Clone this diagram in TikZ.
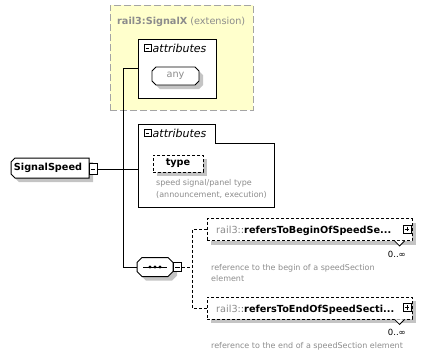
\documentclass[tikz,border=0pt]{standalone}
\usepackage{fontspec}
\setmainfont{DejaVu Sans}
\usetikzlibrary{calc}

\definecolor{extfill}{RGB}{255,255,204}
\definecolor{extline}{RGB}{165,165,165}
\definecolor{greytext}{RGB}{140,140,140}
\definecolor{shadowgrey}{RGB}{196,196,196}

\begin{document}
\begin{tikzpicture}[x=1pt,y=-1pt,
  wire/.style={draw=black, line width=1pt},
  optwire/.style={draw=black, line width=0.9pt, dash pattern=on 3pt off 2pt},
  castshadow/.style={preaction={fill=shadowgrey, transform canvas={xshift=4pt, yshift=-4pt}}},
  outline/.style={draw=black, line width=1pt, fill=white, castshadow},
  holder/.style={inner sep=0pt, outer sep=0pt},
  group/.style={draw=black, line width=1pt, fill=white, inner sep=0pt},
  optbox/.style={draw=black, line width=0.9pt, fill=white, inner sep=0pt, castshadow, dash pattern=on 3pt off 2pt},
  togglebox/.style={draw=black, fill=white, line width=0.8pt, minimum width=8pt, minimum height=9pt, inner sep=0pt},
  minusbox/.style={togglebox, path picture={\draw[line width=0.8pt] ([xshift=1.6pt]path picture bounding box.west) -- ([xshift=-1.6pt]path picture bounding box.east);}},
  plusbox/.style={togglebox, path picture={\draw[line width=0.8pt] ([xshift=1.6pt]path picture bounding box.west) -- ([xshift=-1.6pt]path picture bounding box.east); \draw[line width=0.8pt] ([yshift=-1.6pt]path picture bounding box.north) -- ([yshift=1.6pt]path picture bounding box.south);}},
  boldname/.style={font=\fontsize{9.7}{12}\selectfont\bfseries},
  heading/.style={anchor=base west, font=\fontsize{11}{13}\selectfont\itshape, inner sep=0pt},
  desc/.style={anchor=base west, align=left, text=greytext, font=\fontsize{8}{11.5}\selectfont, inner sep=0pt},
  occurs/.style={anchor=base east, font=\fontsize{8.5}{10}\selectfont, inner sep=0pt},
  notch/.style={draw=black, fill=white, line width=0.8pt}
]
\useasboundingbox (0,0) rectangle (440,359);

% extension base type frame
\node[draw=extline, fill=extfill, line width=1pt, dash pattern=on 7pt off 3pt,
      minimum width=143pt, minimum height=105pt, inner sep=0pt] (ext) at (181.5,57.5) {};
\node[anchor=base west, inner sep=0pt, text=greytext, font=\fontsize{9.7}{12}\selectfont] (exttitle) at (117,24)
  {\textbf{rail3:SignalX} (extension)};

% inherited attributes
\node[group, minimum width=78pt, minimum height=59pt] (attr1) at (177,68.5) {};
\node[minusbox, minimum width=7pt, minimum height=7pt] (attr1toggle) at (147.5,48) {};
\node[heading] (attr1head) at (152.5,52) {attributes};
\node[holder, minimum width=47pt, minimum height=18pt] (any) at (175.5,76) {};
\draw[outline, line width=0.8pt] ([xshift=4pt]any.north west) -- ([xshift=-4pt]any.north east) -- ([yshift=-4pt]any.north east)
  -- ([yshift=4pt]any.south east) -- ([xshift=-4pt]any.south east) -- ([xshift=4pt]any.south west)
  -- ([yshift=4pt]any.south west) -- ([yshift=-4pt]any.north west) -- cycle;
\node[text=greytext, font=\fontsize{9.7}{12}\selectfont] (anytext) at (any.center) {any};

% element SignalSpeed
\node[holder, minimum width=78pt, minimum height=20pt] (signal) at (50,168) {};
\draw[outline] ([xshift=4pt]signal.north west) -- (signal.north east) -- (signal.south east)
  -- ([xshift=4pt]signal.south west) -- ([yshift=4pt]signal.south west) -- ([yshift=-4pt]signal.north west) -- cycle;
\node[boldname] (signaltext) at ([xshift=-2pt]signal.center) {SignalSpeed};
\node[minusbox, minimum height=11pt] (signaltoggle) at (93,169) {};

% own attributes (tab-shaped group)
\node[holder, minimum width=136pt, minimum height=83pt] (attr2) at (206,165.5) {};
\draw[line width=1pt, fill=white] (attr2.south west) -- (attr2.north west) -- ([xshift=77pt]attr2.north west)
  -- ([xshift=77pt, yshift=-19pt]attr2.north west) -- ([yshift=-19pt]attr2.north east) -- (attr2.south east) -- cycle;
\node[minusbox, minimum width=7pt, minimum height=7pt] (attr2toggle) at (147.5,133) {};
\node[heading] (attr2head) at (152.5,137) {attributes};
\node[optbox, minimum width=50pt, minimum height=17pt, boldname] (type) at (178,163.5) {type};
\node[desc] (typedesc) at (156,197) {speed signal/panel type\\(announcement, execution)};

% sequence compositor
\node[holder, minimum width=36pt, minimum height=19pt] (seq) at (155,267) {};
\draw[outline] ([xshift=5pt]seq.north west) -- ([xshift=-5pt]seq.north east) -- ([yshift=-5pt]seq.north east)
  -- ([yshift=5pt]seq.south east) -- ([xshift=-5pt]seq.south east) -- ([xshift=5pt]seq.south west)
  -- ([yshift=5pt]seq.south west) -- ([yshift=-5pt]seq.north west) -- cycle;
\draw[line width=1pt] ([xshift=-12pt]seq.center) -- ([xshift=12pt]seq.center);
\foreach \dx in {-5,0,5}
  \fill ([xshift=\dx pt]seq.center) circle (1.6pt);
\node[minusbox, minimum height=9pt] (seqtoggle) at (177.5,267) {};

% child element references
\node[optbox, minimum width=205pt, minimum height=22pt] (begin) at (309.5,229.5) {};
\node[anchor=base west, inner sep=0pt, font=\fontsize{9.7}{12}\selectfont] (begintext) at (216,233.5)
  {\textcolor{greytext}{rail3:}\textcolor{black!60}{:}\textbf{refersToBeginOfSpeedSe...}};
\node[plusbox, minimum height=8pt] (begintoggle) at (407,229) {};
\draw[notch] ([xshift=-5pt]begin.south -| begintoggle.west) ++(-3pt,0) -- ++(5,5) -- ++(5,-5);
\node[occurs] (beginoccurs) at (406,257) {0..∞};
\node[desc] (begindesc) at (211,281.5) {reference to the begin of a speedSection\\element};

\node[optbox, minimum width=205pt, minimum height=22pt] (end) at (309.5,308) {};
\node[anchor=base west, inner sep=0pt, font=\fontsize{9.7}{12}\selectfont] (endtext) at (216,312)
  {\textcolor{greytext}{rail3:}\textcolor{black!60}{:}\textbf{refersToEndOfSpeedSecti...}};
\node[plusbox, minimum height=8pt] (endtoggle) at (407,307.5) {};
\draw[notch] ([xshift=-5pt]end.south -| endtoggle.west) ++(-3pt,0) -- ++(5,5) -- ++(5,-5);
\node[occurs] (endoccurs) at (406,335.5) {0..∞};
\node[desc] (enddesc) at (211,348.5) {reference to the end of a speedSection element};

% connectors
\coordinate (trunk) at (123.5,0);
\coordinate (fork) at (192,0);
\draw[wire] (signaltoggle.east) -- (signaltoggle.east -| attr2.west);
\draw[wire] (attr1.west) -- (attr1.west -| trunk) -- (seq.west -| trunk) -- (seq.west);
\draw[optwire] (seqtoggle.east) -- (seqtoggle.east -| fork);
\draw[optwire] (begin.west) -- (begin.west -| fork) -- (end.west -| fork) -- (end.west);
\end{tikzpicture}
\end{document}
